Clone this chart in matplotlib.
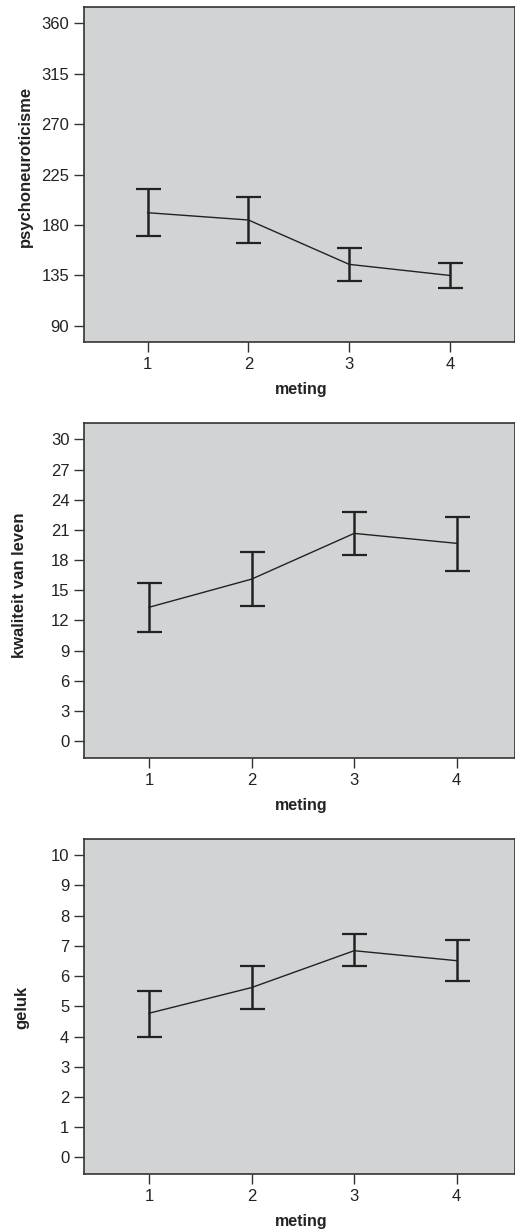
import matplotlib.pyplot as plt
import numpy as np

plt.rcParams['font.family'] = ['Liberation Sans', 'DejaVu Sans']

meting = [1, 2, 3, 4]

# psychoneuroticisme: gemiddelde en grenzen van het interval
psy_mean = [190.9, 184.4, 144.8, 134.9]
psy_low = [170.1, 164.1, 130.2, 123.6]
psy_high = [212.0, 204.9, 159.0, 146.2]

# kwaliteit van leven
kvl_mean = [13.3, 16.1, 20.65, 19.66]
kvl_low = [10.8, 13.43, 18.53, 16.94]
kvl_high = [15.71, 18.83, 22.77, 22.31]

# geluk
gel_mean = [4.77, 5.62, 6.84, 6.51]
gel_low = [4.0, 4.9, 6.32, 5.84]
gel_high = [5.51, 6.34, 7.4, 7.2]

panels = [
    ('psychoneuroticisme', psy_mean, psy_low, psy_high,
     [90, 135, 180, 225, 270, 315, 360], (75.5, 374.5), (0.368, 4.645),
     [0.163, 0.7224, 0.837, 0.2719], (-0.118, 0.525)),
    ('kwaliteit van leven', kvl_mean, kvl_low, kvl_high,
     list(range(0, 31, 3)), (-1.72, 31.66), (0.366, 4.568),
     [0.163, 0.3845, 0.837, 0.2724], (-0.1315, 0.516)),
    ('geluk', gel_mean, gel_low, gel_high,
     list(range(0, 11)), (-0.55, 10.55), (0.366, 4.568),
     [0.163, 0.0471, 0.837, 0.2722], (-0.127, 0.498)),
]

fig = plt.figure(figsize=(5.15, 12.32), dpi=100)

for label, mean, low, high, yticks, ylim, xlim, pos, lab_xy in panels:
    ax = fig.add_axes(pos)
    ax.set_facecolor('#d2d3d5')
    mean = np.array(mean)
    yerr = [mean - np.array(low), np.array(high) - mean]
    ax.plot(meting, mean, color='#222222', lw=1.0)
    ax.errorbar(meting, mean, yerr=yerr, fmt='none', ecolor='#222222',
                elinewidth=1.8, capsize=9, capthick=1.6)
    ax.set_xlim(*xlim)
    ax.set_ylim(*ylim)
    ax.set_xticks(meting)
    ax.set_yticks(yticks)
    ax.tick_params(direction='out', length=7.5, width=1.0, color='#333333',
                   labelsize=12, labelcolor='#222222', pad=3)
    for side in ['top', 'left', 'bottom', 'right']:
        ax.spines[side].set_linewidth(1.2)
        ax.spines[side].set_color('#333333')
    ax.set_ylabel(label, fontsize=12, fontweight='bold', color='#222222')
    ax.yaxis.set_label_coords(*lab_xy)
    ax.set_xlabel('meting', fontsize=11.5, fontweight='bold', color='#222222')
    ax.xaxis.set_label_coords(0.505, -0.119)

fig.savefig('out.png', dpi=100)
